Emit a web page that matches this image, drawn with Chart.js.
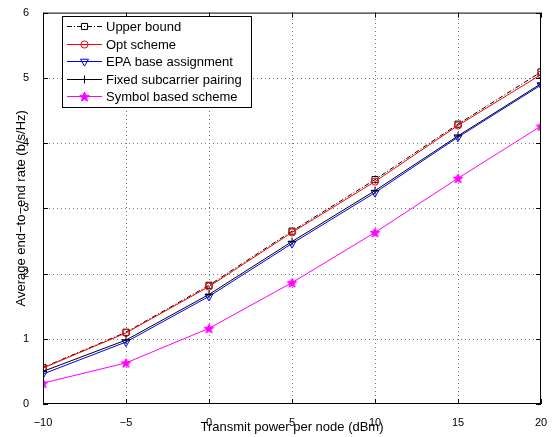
<!DOCTYPE html>
<html>
<head>
<meta charset="utf-8">
<script src="https://cdn.jsdelivr.net/npm/chart.js@4.4.1/dist/chart.umd.min.js"></script>
<style>
  html, body { margin: 0; padding: 0; background: #fff; }
  #wrap { width: 554px; height: 437px; }
</style>
</head>
<body>
<div id="wrap"><canvas id="rate"></canvas></div>
<script>
/* Average end-to-end rate vs transmit power */

const powerDbm     = [-10, -5, 0, 5, 10, 15, 20];
const upperBound   = [0.56, 1.10, 1.82, 2.65, 3.44, 4.29, 5.09];
const optScheme    = [0.55, 1.09, 1.80, 2.63, 3.41, 4.27, 5.05];
const epaAssign    = [0.46, 0.95, 1.65, 2.46, 3.24, 4.09, 4.89];
const fixedPairing = [0.50, 0.98, 1.68, 2.49, 3.27, 4.11, 4.91];
const symbolScheme = [0.32, 0.63, 1.16, 1.86, 2.63, 3.46, 4.26];
const seriesNames  = ["Upper bound", "Opt scheme", "EPA base assignment", "Fixed subcarrier pairing", "Symbol based scheme"];
const xTicks = [-10, -5, 0, 5, 10, 15, 20];
const yTicks = [0, 1, 2, 3, 4, 5, 6];

const FONT = "'Liberation Sans', Arial, Helvetica, sans-serif";
const MAGENTA = "#ff00ff";

// pentagram marker
function makeStar(color, r) {
  const c = document.createElement("canvas");
  const s = Math.ceil(r * 2 + 3);
  c.width = s; c.height = s;
  const g = c.getContext("2d");
  g.beginPath();
  for (let i = 0; i < 10; i++) {
    const rad = i % 2 === 0 ? r : r * 0.45;
    const a = -Math.PI / 2 + i * Math.PI / 5;
    const px = s / 2 + rad * Math.cos(a), py = s / 2 + rad * Math.sin(a) + 0.5;
    i === 0 ? g.moveTo(px, py) : g.lineTo(px, py);
  }
  g.closePath();
  g.fillStyle = color;
  g.fill();
  g.strokeStyle = color;
  g.lineWidth = 1;
  g.stroke();
  return c;
}
const starImg = makeStar(MAGENTA, 5);

const pts = (ys) => powerDbm.map((x, i) => ({ x, y: ys[i] }));

const datasets = [
  { label: seriesNames[0], data: pts(upperBound), borderColor: "#000", borderDash: [5, 2, 1, 2],
    pointStyle: "rect", pointRadius: 4.3, pointBorderColor: "#000" },
  { label: seriesNames[1], data: pts(optScheme), borderColor: "#ff0000",
    pointStyle: "circle", pointRadius: 3.6, pointBorderColor: "#ff0000" },
  { label: seriesNames[2], data: pts(epaAssign), borderColor: "#0000ff",
    pointStyle: "triangle", pointRotation: 180, pointRadius: 4.6, pointBorderColor: "#0000ff" },
  { label: seriesNames[3], data: pts(fixedPairing), borderColor: "#000",
    pointStyle: "cross", pointRadius: 4, pointBorderColor: "#000" },
  { label: seriesNames[4], data: pts(symbolScheme), borderColor: MAGENTA,
    pointStyle: starImg, pointRadius: 5, pointBorderColor: MAGENTA },
].map((d, i) => ({
  ...d,
  borderWidth: 1,
  backgroundColor: "transparent",
  pointBackgroundColor: "transparent",
  pointBorderWidth: 1,
  tension: 0,
  order: 5 - i,
}));

// dotted MATLAB grid, one pixel every 4
const dottedGrid = {
  id: "dottedGrid",
  beforeDatasetsDraw(chart) {
    const { ctx, chartArea: a, scales } = chart;
    ctx.save();
    ctx.fillStyle = "#7a7a7a";
    xTicks.slice(1, -1).forEach((v) => {
      const x = Math.round(scales.x.getPixelForValue(v));
      for (let y = Math.ceil(a.top) + 2; y < a.bottom - 1; y += 4) ctx.fillRect(x, y, 1, 1);
    });
    yTicks.slice(1, -1).forEach((v) => {
      const y = Math.round(scales.y.getPixelForValue(v));
      for (let x = Math.ceil(a.left) + 2; x < a.right - 1; x += 4) ctx.fillRect(x, y, 1, 1);
    });
    ctx.restore();
  },
};

// frame, inward ticks and inset legend
const matlabFrame = {
  id: "matlabFrame",
  afterDraw(chart) {
    const { ctx, chartArea: a, scales } = chart;
    ctx.save();
    ctx.strokeStyle = "#000";
    ctx.lineWidth = 1;
    ctx.setLineDash([]);
    ctx.strokeRect(a.left + 0.5, a.top + 0.5, a.right - a.left - 1, a.bottom - a.top - 1);
    const tl = 5;
    ctx.beginPath();
    xTicks.forEach((v) => {
      const x = Math.round(scales.x.getPixelForValue(v)) + 0.5;
      ctx.moveTo(x, a.bottom); ctx.lineTo(x, a.bottom - tl);
      ctx.moveTo(x, a.top); ctx.lineTo(x, a.top + tl);
    });
    yTicks.forEach((v) => {
      const y = Math.round(scales.y.getPixelForValue(v)) + 0.5;
      ctx.moveTo(a.left, y); ctx.lineTo(a.left + tl, y);
      ctx.moveTo(a.right, y); ctx.lineTo(a.right - tl, y);
    });
    ctx.stroke();

    // legend
    const bx = 62, by = 16, bw = 189, bh = 91, row = 17.6;
    ctx.fillStyle = "#fff";
    ctx.fillRect(bx, by, bw, bh);
    ctx.strokeRect(bx + 0.5, by + 0.5, bw, bh);
    ctx.font = "13px " + FONT;
    ctx.textBaseline = "middle";
    chart.data.datasets.forEach((ds, i) => {
      const y = Math.round(by + 10 + i * row) + 0.5;
      ctx.strokeStyle = ds.borderColor;
      ctx.lineWidth = 1;
      ctx.setLineDash(ds.borderDash || []);
      ctx.beginPath();
      ctx.moveTo(67, y); ctx.lineTo(102, y);
      ctx.stroke();
      ctx.setLineDash([]);
      ctx.fillStyle = "rgba(0,0,0,0)";
      Chart.helpers.drawPoint(ctx, {
        pointStyle: ds.pointStyle, radius: ds.pointRadius, rotation: ds.pointRotation || 0, borderWidth: 1,
      }, 84.5, y);
      ctx.fillStyle = "#000";
      ctx.fillText(ds.label, 106, y + 0.5);
    });
    ctx.restore();
  },
};

new Chart(document.getElementById("rate"), {
  type: "line",
  data: { datasets },
  plugins: [dottedGrid, matlabFrame],
  options: {
    responsive: true,
    maintainAspectRatio: false,
    animation: false,
    layout: { padding: { left: 0, right: 13, top: 12, bottom: 0 } },
    plugins: { legend: { display: false }, tooltip: { enabled: false } },
    scales: {
      x: {
        type: "linear", min: -10, max: 20,
        afterBuildTicks: (s) => { s.ticks = xTicks.map((v) => ({ value: v })); },
        afterFit: (s) => { s.height = 33; },
        grid: { display: false },
        border: { display: false },
        ticks: { color: "#000", padding: 4, font: { family: FONT, size: 11 }, maxRotation: 0,
          callback: (v) => String(v).replace("-", "\u2212") },
        title: { display: true, text: "Transmit power per node (dBm)", color: "#000",
          font: { family: FONT, size: 13 }, padding: { top: 0, bottom: 2 } },
      },
      y: {
        type: "linear", min: 0, max: 6,
        afterBuildTicks: (s) => { s.ticks = yTicks.map((v) => ({ value: v })); },
        afterFit: (s) => { s.width = 43; },
        grid: { display: false },
        border: { display: false },
        ticks: { color: "#000", padding: 6, font: { family: FONT, size: 11 } },
        title: { display: true, text: "Average end\u2212to\u2212end rate (b/s/Hz)", color: "#000",
          font: { family: FONT, size: 13 }, padding: { top: 14, bottom: 0 } },
      },
    },
  },
});
</script>
</body>
</html>
